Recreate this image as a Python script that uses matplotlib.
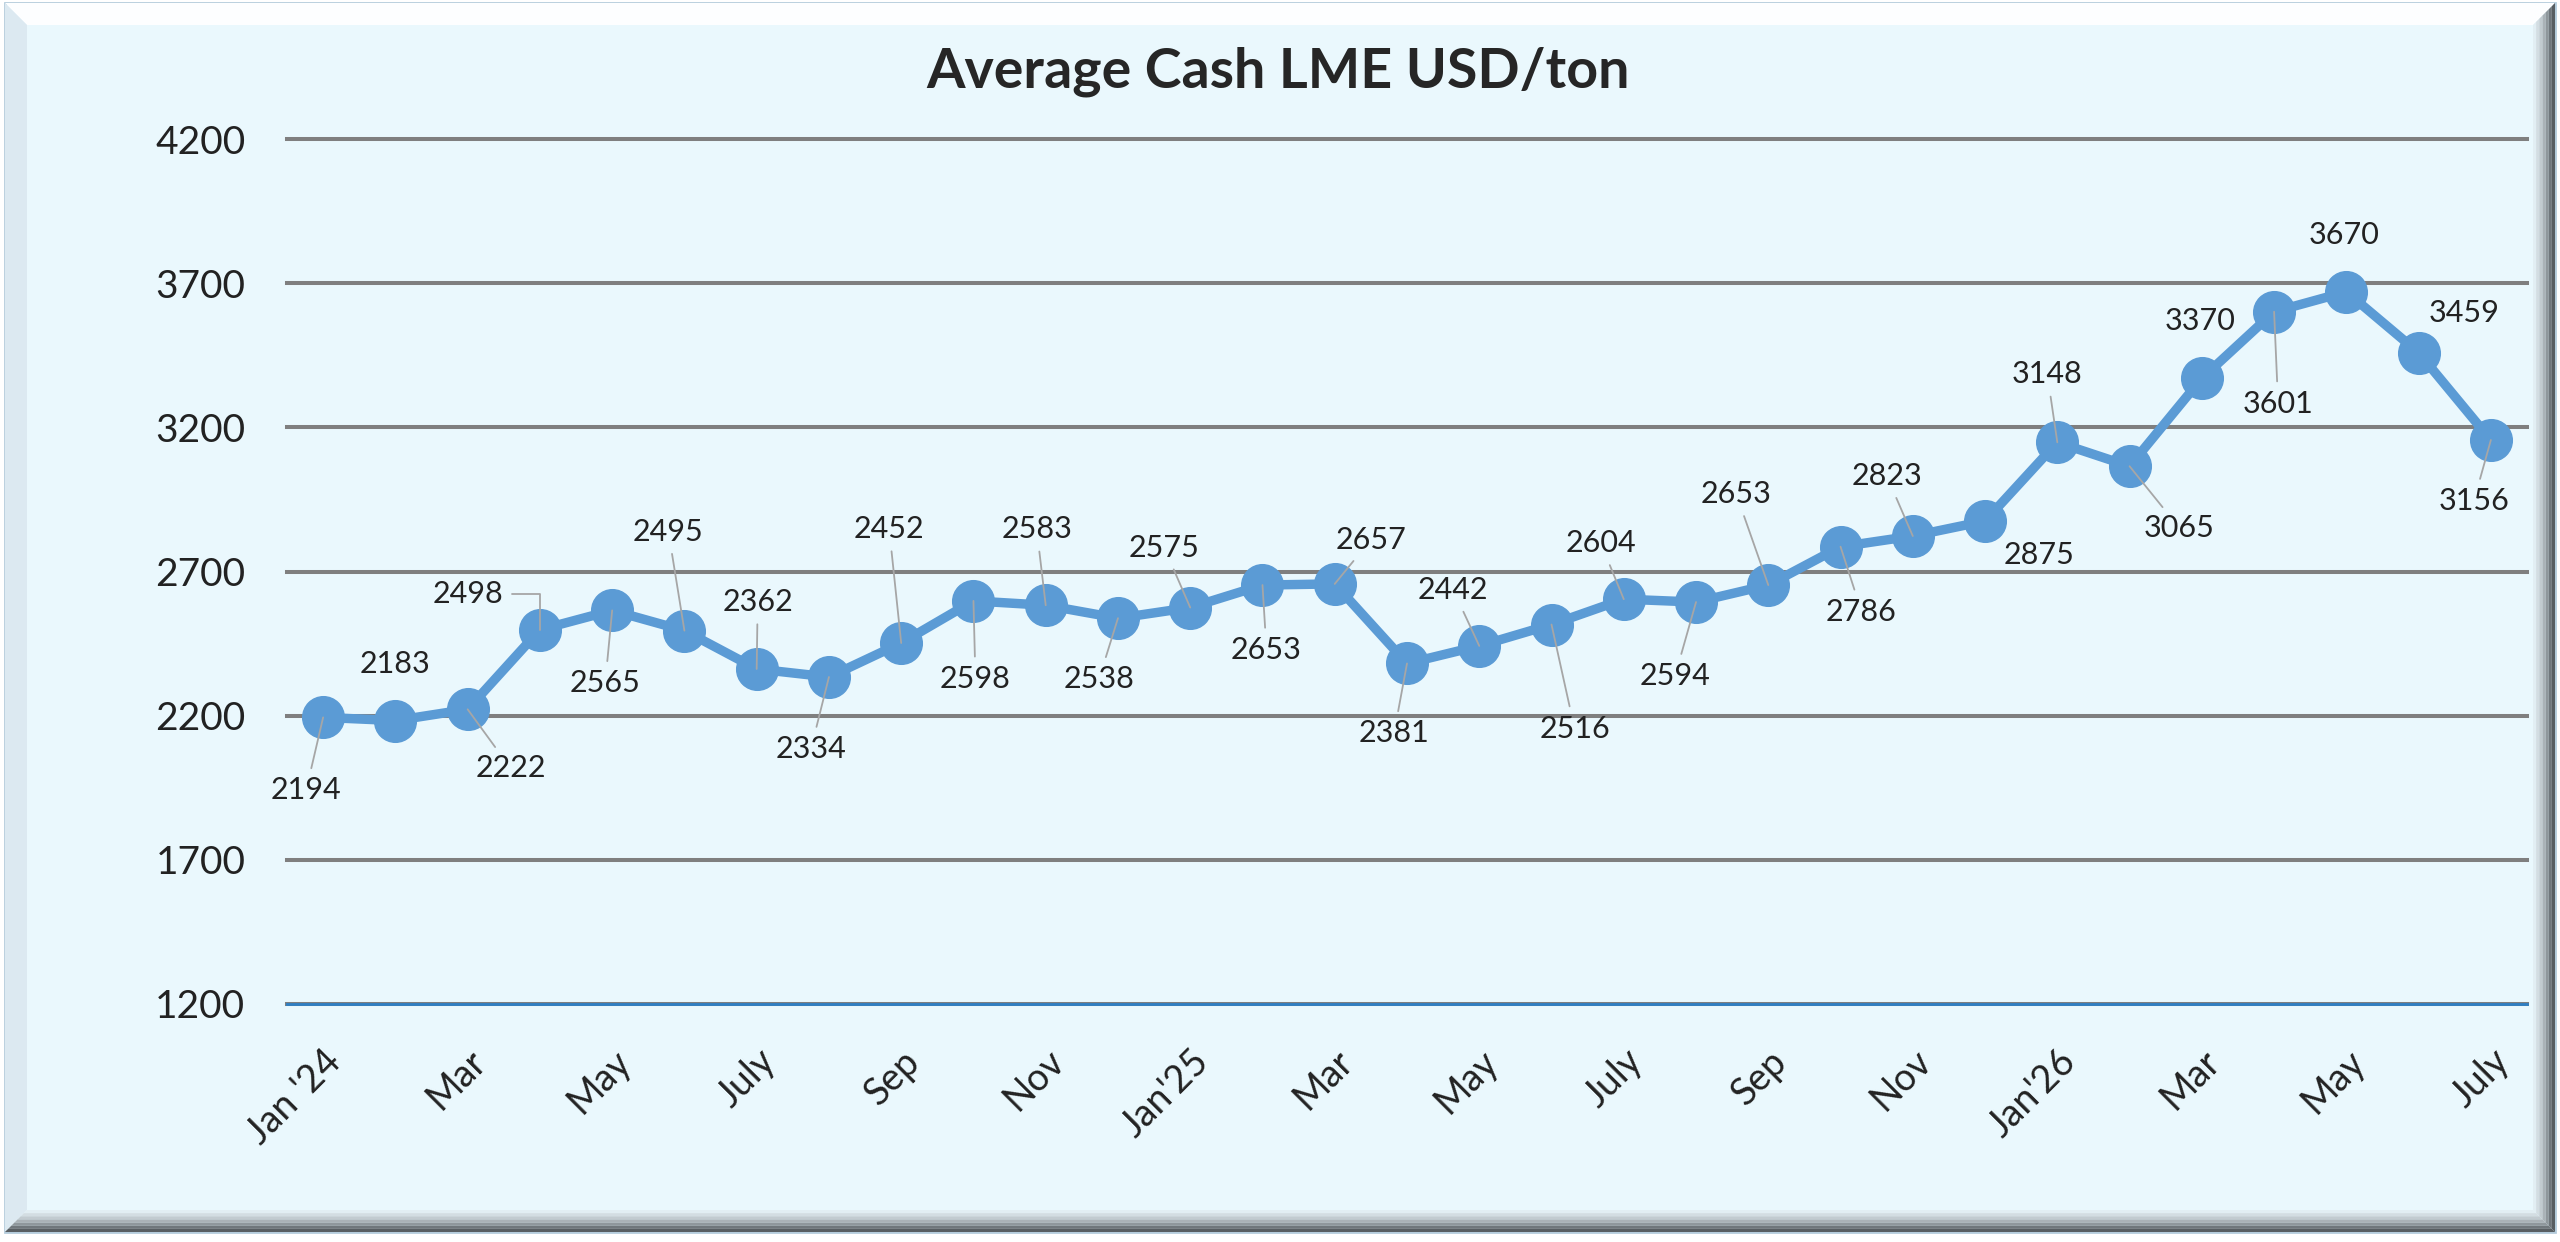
import matplotlib
matplotlib.use("Agg")
import matplotlib.pyplot as plt
from matplotlib.patches import Polygon, Rectangle

plt.rcParams['font.family'] = ['Lato', 'DejaVu Sans']

# data
months = ["Jan '24", "Feb", "Mar", "Apr", "May", "Jun", "July", "Aug", "Sep", "Oct", "Nov", "Dec",
          "Jan'25", "Feb", "Mar", "Apr", "May", "Jun", "July", "Aug", "Sep", "Oct", "Nov", "Dec",
          "Jan'26", "Feb", "Mar", "Apr", "May", "Jun", "July"]
prices = [2194, 2183, 2222, 2498, 2565, 2495, 2362, 2334, 2452, 2598, 2583, 2538,
          2575, 2653, 2657, 2381, 2442, 2516, 2604, 2594, 2653, 2786, 2823, 2875,
          3148, 3065, 3370, 3601, 3670, 3459, 3156]
y_ticks = [1200, 1700, 2200, 2700, 3200, 3700, 4200]

# label placement (pixels right / down from the point) and leader line flag
label_offsets = [(-17, 73), (0, -57), (43, 59), (-72, -36), (-7, 73), (-16, -99), (1, -67),
                 (-18, 72), (-12, -114), (2, 78), (-9, -76), (-19, 61), (-26, -60), (4, 65),
                 (36, -44), (-13, 70), (-26, -56), (23, 104), (-23, -56), (-21, 74), (-32, -91),
                 (21, 65), (-26, -60), (54, 34), (-10, -68), (50, 62), (-2, -57), (4, 92),
                 (-2, -57), (45, -40), (-17, 61)]
no_leader = {1, 23, 26, 28, 29}

W, H = 2560, 1242
fig = plt.figure(figsize=(W / 100, H / 100), dpi=100)
fig.patch.set_facecolor("white")

def fx(px):
    return px / W

def fy(py):
    return 1 - py / H

def add_poly(pts, col, z=0.5):
    fig.patches.append(Polygon([(fx(a), fy(b)) for a, b in pts], closed=True,
                               transform=fig.transFigure, facecolor=col, edgecolor="none",
                               zorder=z))

# framed background with a bevel
L, T, R, B = 5, 3, 2555, 1232
bw = 22
fig.patches.append(Rectangle((fx(L), fy(B)), fx(R - L), fy(T) - fy(B), transform=fig.transFigure,
                             facecolor="#EAF8FD", edgecolor="#B4CCDC", lw=2, zorder=0))
add_poly([(L, T), (R, T), (R - bw, T + bw), (L + bw, T + bw)], "#FDFEFF")
add_poly([(L, T), (L + bw, T + bw), (L + bw, B - bw), (L, B)], "#DCE9F1")
# darker bevel on the bottom and right, in steps toward the edge
shades = ["#E2EEF3", "#D3DDE2", "#C2CBD0", "#AAB2B7", "#8F979C", "#70777C", "#585E62"]
n = len(shades)
for k, col in enumerate(shades):
    a = bw * (n - k) / n
    b = bw * (n - k - 1) / n
    add_poly([(L + a, B - a), (R - a, B - a), (R - b, B - b), (L + b, B - b)], col)
    add_poly([(R - a, T + a), (R - a, B - a), (R - b, B - b), (R - b, T + b)], col)

ax = fig.add_axes([fx(287), fy(1004), fx(2527 - 287), fy(139) - fy(1004)])
ax.set_zorder(2)
ax.patch.set_alpha(0)

x = list(range(len(prices)))
ax.plot(x, prices, color="#5B9BD5", lw=6.8, marker="o", markersize=30,
        markerfacecolor="#5B9BD5", markeredgecolor="#5B9BD5", zorder=3, clip_on=False)

ax.set_xlim(-0.5, len(prices) - 0.5)
ax.set_ylim(1200, 4200)
ax.set_yticks(y_ticks)
ax.set_yticklabels([str(v) for v in y_ticks])
ax.yaxis.grid(True, color="#7F7F7F", lw=2.9)
for gl in ax.get_ygridlines():
    gl.set_clip_on(False)
ax.set_axisbelow(True)
for s in ["top", "right", "left"]:
    ax.spines[s].set_visible(False)
ax.spines["bottom"].set_color("#2E7FC4")
ax.spines["bottom"].set_linewidth(2.0)
ax.spines["bottom"].set_zorder(2.5)

ax.set_xticks(x[::2])
ax.set_xticklabels(months[::2], rotation=45, ha="right", va="top", rotation_mode="anchor")
ax.tick_params(axis="x", length=0, pad=28, labelsize=27, labelcolor="#222222")
ax.tick_params(axis="y", length=0, pad=30, labelsize=28, labelcolor="#222222")

for i, (v, (dx, dy)) in enumerate(zip(prices, label_offsets)):
    kw = {}
    if i not in no_leader:
        cs = "angle,angleA=0,angleB=90,rad=0" if i == 3 else "arc3"
        kw["arrowprops"] = dict(arrowstyle="-", color="#A6A6A6", lw=1.3, shrinkA=4, shrinkB=0,
                                connectionstyle=cs)
    ax.annotate(str(v), xy=(i, v), xytext=(dx * 0.72, -dy * 0.72), textcoords="offset points",
                ha="center", va="center", fontsize=22, color="#222222", zorder=5,
                annotation_clip=False, **kw)

fig.text(fx(1278), fy(72), "Average Cash LME USD/ton", ha="center", va="center",
         fontsize=40, fontweight="bold", color="#262626")

fig.savefig("out.png", dpi=100)
